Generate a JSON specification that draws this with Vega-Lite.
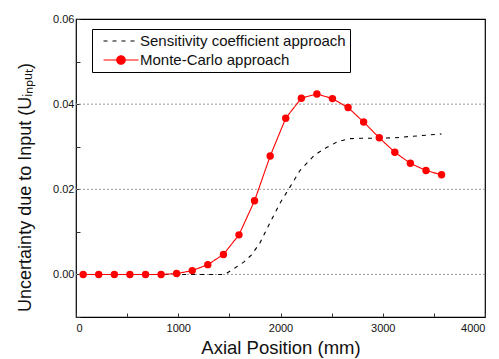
{
  "$schema": "https://vega.github.io/schema/vega-lite/v6.json",
  "width": 409,
  "height": 298,
  "autosize": {"type": "none"},
  "padding": {"left": 76, "top": 19, "right": 14, "bottom": 42},
  "background": "white",
  "config": {
    "font": "Liberation Sans",
    "view": {"stroke": "black", "strokeWidth": 1.2},
    "axis": {"grid": false, "domain": false, "tickColor": "#333", "tickSize": -4, "labelColor": "#111", "labelFontSize": 11, "titleFontSize": 18.5, "titleFontWeight": "normal", "titleColor": "#111", "labelFont": "Liberation Sans", "titleFont": "Liberation Sans"},
    "axisX": {"titleY": 36, "titleBaseline": "alphabetic"},
    "axisY": {"titleX": -46, "titleY": 168, "titleBaseline": "alphabetic", "titleAngle": -90, "titleAlign": "center", "titleFontSize": 18}
  },
  "datasets": {
    "curves": [
      {"x": 70, "y": 0.0, "series": "Sensitivity coefficient approach"},
      {"x": 1000, "y": 0.0, "series": "Sensitivity coefficient approach"},
      {"x": 1456, "y": 0.0, "series": "Sensitivity coefficient approach"},
      {"x": 1554, "y": 0.0015, "series": "Sensitivity coefficient approach"},
      {"x": 1640, "y": 0.0029, "series": "Sensitivity coefficient approach"},
      {"x": 1717, "y": 0.0046, "series": "Sensitivity coefficient approach"},
      {"x": 1799, "y": 0.0074, "series": "Sensitivity coefficient approach"},
      {"x": 1896, "y": 0.0121, "series": "Sensitivity coefficient approach"},
      {"x": 1994, "y": 0.0167, "series": "Sensitivity coefficient approach"},
      {"x": 2092, "y": 0.0205, "series": "Sensitivity coefficient approach"},
      {"x": 2190, "y": 0.0244, "series": "Sensitivity coefficient approach"},
      {"x": 2336, "y": 0.0281, "series": "Sensitivity coefficient approach"},
      {"x": 2450, "y": 0.0298, "series": "Sensitivity coefficient approach"},
      {"x": 2560, "y": 0.0312, "series": "Sensitivity coefficient approach"},
      {"x": 2680, "y": 0.0319, "series": "Sensitivity coefficient approach"},
      {"x": 2800, "y": 0.032, "series": "Sensitivity coefficient approach"},
      {"x": 2972, "y": 0.032, "series": "Sensitivity coefficient approach"},
      {"x": 3120, "y": 0.0321, "series": "Sensitivity coefficient approach"},
      {"x": 3265, "y": 0.0324, "series": "Sensitivity coefficient approach"},
      {"x": 3420, "y": 0.0327, "series": "Sensitivity coefficient approach"},
      {"x": 3575, "y": 0.033, "series": "Sensitivity coefficient approach"},
      {"x": 70, "y": 0.0, "series": "Monte-Carlo approach"},
      {"x": 222, "y": 0.0, "series": "Monte-Carlo approach"},
      {"x": 375, "y": 0.0, "series": "Monte-Carlo approach"},
      {"x": 527, "y": 0.0, "series": "Monte-Carlo approach"},
      {"x": 680, "y": 0.0, "series": "Monte-Carlo approach"},
      {"x": 832, "y": 0.0, "series": "Monte-Carlo approach"},
      {"x": 984, "y": 0.0002, "series": "Monte-Carlo approach"},
      {"x": 1137, "y": 0.0009, "series": "Monte-Carlo approach"},
      {"x": 1289, "y": 0.0023, "series": "Monte-Carlo approach"},
      {"x": 1442, "y": 0.0047, "series": "Monte-Carlo approach"},
      {"x": 1594, "y": 0.0093, "series": "Monte-Carlo approach"},
      {"x": 1746, "y": 0.0173, "series": "Monte-Carlo approach"},
      {"x": 1899, "y": 0.0278, "series": "Monte-Carlo approach"},
      {"x": 2051, "y": 0.0367, "series": "Monte-Carlo approach"},
      {"x": 2204, "y": 0.0414, "series": "Monte-Carlo approach"},
      {"x": 2356, "y": 0.0424, "series": "Monte-Carlo approach"},
      {"x": 2508, "y": 0.0413, "series": "Monte-Carlo approach"},
      {"x": 2661, "y": 0.0392, "series": "Monte-Carlo approach"},
      {"x": 2813, "y": 0.0358, "series": "Monte-Carlo approach"},
      {"x": 2966, "y": 0.0321, "series": "Monte-Carlo approach"},
      {"x": 3118, "y": 0.0287, "series": "Monte-Carlo approach"},
      {"x": 3270, "y": 0.0261, "series": "Monte-Carlo approach"},
      {"x": 3423, "y": 0.0244, "series": "Monte-Carlo approach"},
      {"x": 3575, "y": 0.0234, "series": "Monte-Carlo approach"}
    ],
    "grid": [{"g": 0}, {"g": 0.02}, {"g": 0.04}]
  },
  "layer": [
    {
      "data": {"name": "grid"},
      "mark": {"type": "rule", "strokeDash": [2, 2], "color": "#999", "strokeWidth": 1},
      "encoding": {
        "y": {"field": "g", "type": "quantitative", "scale": {"domain": [-0.01, 0.06], "nice": false, "zero": false},
          "axis": {"title": "Uncertainty due to Input (Uᵢₙₚᵤₜ)", "values": [-0.01, 0, 0.01, 0.02, 0.03, 0.04, 0.05, 0.06], "format": ".2f", "labelExpr": "abs(round(datum.value*100)) % 2 == 0 && datum.value >= 0 ? datum.label : ''", "labelPadding": 6}}
      }
    },
    {
      "data": {"name": "curves"},
      "mark": {"type": "line", "strokeWidth": 1.1},
      "encoding": {
        "x": {"field": "x", "type": "quantitative",
          "scale": {"domain": [0, 4000], "nice": false},
          "axis": {"title": "Axial Position (mm)", "values": [0, 500, 1000, 1500, 2000, 2500, 3000, 3500, 4000], "format": "d", "labelExpr": "datum.value % 1000 == 0 ? datum.label : ''", "labelPadding": 9}},
        "y": {"field": "y", "type": "quantitative",
          "axis": {"title": "Uncertainty due to Input (Uᵢₙₚᵤₜ)", "values": [-0.01, 0, 0.01, 0.02, 0.03, 0.04, 0.05, 0.06], "format": ".2f", "labelExpr": "abs(round(datum.value*100)) % 2 == 0 && datum.value >= 0 ? datum.label : ''", "labelPadding": 6}},
        "color": {"field": "series", "type": "nominal",
          "scale": {"domain": ["Sensitivity coefficient approach", "Monte-Carlo approach"], "range": ["black", "#ff0000"]},
          "legend": {"title": null, "orient": "none", "legendX": 16, "legendY": 10, "strokeColor": "black", "padding": 4, "labelFontSize": 15, "labelFont": "Liberation Sans", "labelColor": "#111", "labelLimit": 400, "labelOffset": 11, "symbolOffset": 17, "symbolSize": 196, "symbolStrokeWidth": 1.2, "rowPadding": 3, "fillColor": "white",
            "encode": {"symbols": {"update": {
              "shape": {"signal": "datum.value == 'Monte-Carlo approach' ? 'M-2.5,0H2.5M-0.6,0A0.6,0.6 0 1,0 0.6,0A0.6,0.6 0 1,0 -0.6,0Z' : 'M-2.5,0H2.5'"},
              "fill": {"signal": "datum.value == 'Monte-Carlo approach' ? '#ff0000' : 'transparent'"},
              "fillOpacity": {"value": 1}
            }}}}},
        "strokeDash": {"field": "series", "type": "nominal",
          "scale": {"domain": ["Sensitivity coefficient approach", "Monte-Carlo approach"], "range": [[4, 5], [1, 0]]},
          "legend": {"title": null, "orient": "none", "legendX": 16, "legendY": 10, "strokeColor": "black", "padding": 4, "labelFontSize": 15, "labelFont": "Liberation Sans", "labelColor": "#111", "labelLimit": 400, "labelOffset": 11, "symbolOffset": 17, "symbolSize": 196, "symbolStrokeWidth": 1.2, "rowPadding": 3, "fillColor": "white"}}
      }
    },
    {
      "data": {"name": "curves"},
      "transform": [{"filter": "datum.series == 'Monte-Carlo approach'"}],
      "mark": {"type": "point", "filled": true, "size": 55, "opacity": 1, "color": "#ff0000"},
      "encoding": {
        "x": {"field": "x", "type": "quantitative"},
        "y": {"field": "y", "type": "quantitative"}
      }
    }
  ]
}
